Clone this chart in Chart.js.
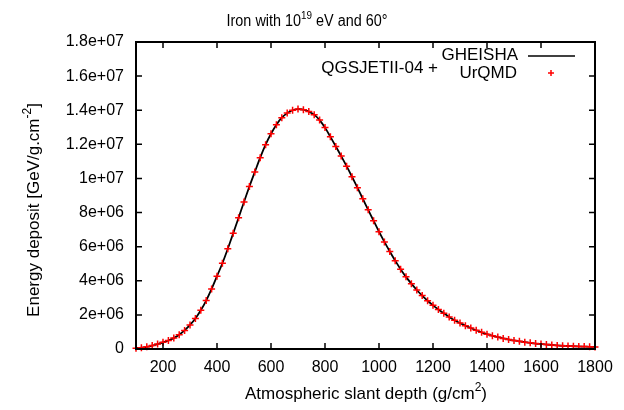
<!DOCTYPE html>
<html>
<head>
<meta charset="utf-8">
<script src="https://cdn.jsdelivr.net/npm/chart.js@4"></script>
<style>
  html, body { margin: 0; padding: 0; background: #fff; }
  #wrap { width: 624px; height: 410px; }
</style>
</head>
<body>
<div id="wrap"><canvas id="chartCanvas" width="624" height="410"></canvas></div>
<script>
// slant depth (g/cm^2), one sample every 20
const depth = [100,120,140,160,180,200,220,240,260,280,300,320,340,360,380,400,420,440,460,480,
  500,520,540,560,580,600,620,640,660,680,700,720,740,760,780,800,820,840,860,880,
  900,920,940,960,980,1000,1020,1040,1060,1080,1100,1120,1140,1160,1180,1200,1220,1240,1260,1280,
  1300,1320,1340,1360,1380,1400,1420,1440,1460,1480,1500,1520,1540,1560,1580,1600,1620,1640,1660,1680,
  1700,1720,1740,1760,1780,1800];

// energy deposit (GeV/g.cm^-2); both models overlap at this scale
const gheisha = [50000,80000,130000,200000,290000,390000,500000,640000,840000,1090000,
  1410000,1790000,2270000,2840000,3520000,4270000,5030000,5880000,6780000,7700000,
  8620000,9530000,10380000,11220000,11980000,12620000,13150000,13560000,13830000,14000000,
  14070000,14030000,13920000,13740000,13420000,12980000,12440000,11880000,11310000,10720000,
  10100000,9460000,8810000,8160000,7520000,6880000,6280000,5720000,5180000,4680000,
  4230000,3830000,3460000,3130000,2830000,2560000,2320000,2090000,1880000,1690000,
  1520000,1370000,1230000,1100000,980000,870000,780000,700000,620000,560000,
  500000,450000,400000,360000,320000,290000,260000,240000,210000,190000,
  175000,160000,150000,140000,130000,120000];
const urqmd = gheisha.slice();

const xTicks = [200,400,600,800,1000,1200,1400,1600,1800];
const xTickLabels = ['200','400','600','800','1000','1200','1400','1600','1800'];
const yTicks = [0,2e6,4e6,6e6,8e6,1e7,1.2e7,1.4e7,1.6e7,1.8e7];
const yTickLabels = ['0','2e+06','4e+06','6e+06','8e+06','1e+07','1.2e+07','1.4e+07','1.6e+07','1.8e+07'];

const FONT = 'Liberation Sans, Arial, Helvetica, sans-serif';

// text with one superscript piece, centred on x
function supText(ctx, parts, x, y, size) {
  const big = size + 'px ' + FONT, small = Math.round(size * 0.7) + 'px ' + FONT;
  let w = 0;
  parts.forEach(p => { ctx.font = p.sup ? small : big; w += ctx.measureText(p.t).width; });
  let cx = x - w / 2;
  ctx.textAlign = 'left';
  ctx.textBaseline = 'alphabetic';
  parts.forEach(p => {
    ctx.font = p.sup ? small : big;
    ctx.fillText(p.t, cx, p.sup ? y - size * 0.45 : y);
    cx += ctx.measureText(p.t).width;
  });
}

const decor = {
  id: 'decor',
  afterDraw(chart) {
    const ctx = chart.ctx, a = chart.chartArea;
    const xs = chart.scales.x, ys = chart.scales.y;
    ctx.save();
    ctx.fillStyle = '#000';
    ctx.strokeStyle = '#000';

    // inward ticks on all four sides
    ctx.lineWidth = 1.5;
    ctx.beginPath();
    xTicks.forEach(v => {
      const px = xs.getPixelForValue(v);
      ctx.moveTo(px, a.bottom); ctx.lineTo(px, a.bottom - 6);
      ctx.moveTo(px, a.top); ctx.lineTo(px, a.top + 6);
    });
    yTicks.forEach(v => {
      const py = ys.getPixelForValue(v);
      ctx.moveTo(a.left, py); ctx.lineTo(a.left + 6, py);
      ctx.moveTo(a.right, py); ctx.lineTo(a.right - 6, py);
    });
    ctx.stroke();

    // frame
    ctx.lineWidth = 2;
    ctx.strokeRect(a.left, a.top, a.right - a.left, a.bottom - a.top);

    // titles (main title is a bit narrower in the original)
    ctx.save();
    ctx.translate(307, 26);
    ctx.scale(0.9, 1);
    supText(ctx, [{t: 'Iron with 10'}, {t: '19', sup: true}, {t: ' eV and 60°'}], 0, 0, 16);
    ctx.restore();
    supText(ctx, [{t: 'Atmospheric slant depth (g/cm'}, {t: '2', sup: true}, {t: ')'}], 366, 399, 17);
    ctx.save();
    ctx.translate(39, 210);
    ctx.rotate(-Math.PI / 2);
    supText(ctx, [{t: 'Energy deposit [GeV/g.cm'}, {t: '-2', sup: true}, {t: ']'}], 0, 0, 17);
    ctx.restore();

    // legend, gnuplot style
    ctx.font = '17px ' + FONT;
    ctx.textAlign = 'right';
    ctx.textBaseline = 'middle';
    ctx.fillText('GHEISHA', 518, 55);
    ctx.fillText('QGSJETII-04 +', 438, 68);
    ctx.fillText('UrQMD', 517, 73);
    ctx.lineWidth = 1.5;
    ctx.beginPath();
    ctx.moveTo(528, 56); ctx.lineTo(575, 56);
    ctx.stroke();
    ctx.strokeStyle = '#ff0000';
    ctx.beginPath();
    ctx.moveTo(548, 73); ctx.lineTo(554, 73);
    ctx.moveTo(551, 70); ctx.lineTo(551, 76);
    ctx.stroke();
    ctx.restore();
  }
};

const ctx = document.getElementById('chartCanvas').getContext('2d');
new Chart(ctx, {
  type: 'line',
  data: {
    labels: depth,
    datasets: [
      {
        label: 'QGSJETII-04 + UrQMD',
        data: depth.map((d, i) => ({x: d, y: urqmd[i]})),
        showLine: false,
        pointStyle: 'cross',
        pointRadius: 3.5,
        pointBorderWidth: 1.5,
        pointBorderColor: '#ff0000',
        pointBackgroundColor: '#ff0000',
        clip: false,
        order: 0
      },
      {
        label: 'QGSJETII-04 + GHEISHA',
        data: depth.map((d, i) => ({x: d, y: gheisha[i]})),
        borderColor: '#000',
        borderWidth: 1.8,
        pointRadius: 0,
        tension: 0.3,
        order: 1
      }
    ]
  },
  options: {
    responsive: false,
    animation: false,
    layout: { padding: { left: 0, top: 42, right: 29, bottom: 0 } },
    plugins: { legend: { display: false }, tooltip: { enabled: false } },
    scales: {
      x: {
        type: 'linear',
        min: 100,
        max: 1800,
        grid: { display: false, drawTicks: false },
        border: { display: false },
        afterBuildTicks: s => { s.ticks = xTicks.map(v => ({value: v})); },
        afterFit: s => { s.height = 61; },
        ticks: {
          color: '#000', font: { family: FONT, size: 16 }, padding: 9, maxRotation: 0, autoSkip: false,
          callback: (v) => xTickLabels[xTicks.indexOf(v)]
        }
      },
      y: {
        min: 0,
        max: 1.8e7,
        grid: { display: false, drawTicks: false },
        border: { display: false },
        afterBuildTicks: s => { s.ticks = yTicks.map(v => ({value: v})); },
        afterFit: s => { s.width = 136; },
        ticks: {
          color: '#000', font: { family: FONT, size: 16 }, padding: 12, autoSkip: false,
          callback: (v) => yTickLabels[yTicks.indexOf(v)]
        }
      }
    }
  },
  plugins: [decor]
});
</script>
</body>
</html>
